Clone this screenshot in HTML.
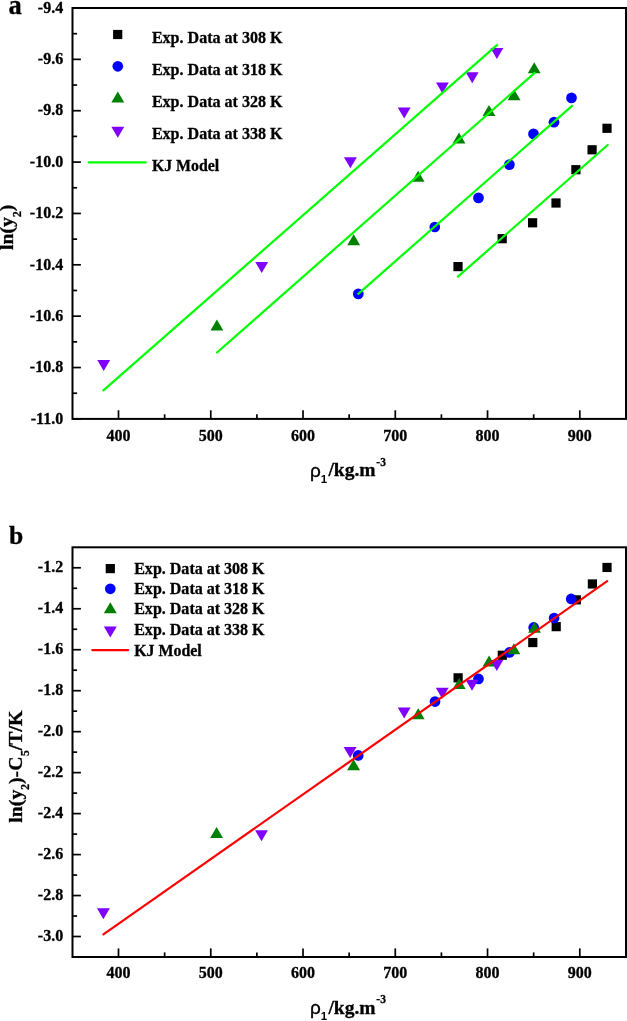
<!DOCTYPE html>
<html><head><meta charset="utf-8"><title>KJ model</title>
<style>html,body{margin:0;padding:0;background:#fff;}svg{display:block;will-change:transform;}</style></head>
<body>
<svg width="627" height="1021" viewBox="0 0 627 1021">
<rect width="627" height="1021" fill="#fff"/>
<rect x="72.5" y="8.0" width="553.5" height="410.9" fill="none" stroke="#000" stroke-width="2.0"/>
<line x1="72.5" y1="8.00" x2="80.9" y2="8.00" stroke="#000" stroke-width="1.7"/>
<line x1="72.5" y1="59.36" x2="80.9" y2="59.36" stroke="#000" stroke-width="1.7"/>
<line x1="72.5" y1="110.72" x2="80.9" y2="110.72" stroke="#000" stroke-width="1.7"/>
<line x1="72.5" y1="162.09" x2="80.9" y2="162.09" stroke="#000" stroke-width="1.7"/>
<line x1="72.5" y1="213.45" x2="80.9" y2="213.45" stroke="#000" stroke-width="1.7"/>
<line x1="72.5" y1="264.81" x2="80.9" y2="264.81" stroke="#000" stroke-width="1.7"/>
<line x1="72.5" y1="316.17" x2="80.9" y2="316.17" stroke="#000" stroke-width="1.7"/>
<line x1="72.5" y1="367.54" x2="80.9" y2="367.54" stroke="#000" stroke-width="1.7"/>
<line x1="72.5" y1="418.90" x2="80.9" y2="418.90" stroke="#000" stroke-width="1.7"/>
<line x1="72.5" y1="33.68" x2="77.1" y2="33.68" stroke="#000" stroke-width="1.7"/>
<line x1="72.5" y1="85.04" x2="77.1" y2="85.04" stroke="#000" stroke-width="1.7"/>
<line x1="72.5" y1="136.41" x2="77.1" y2="136.41" stroke="#000" stroke-width="1.7"/>
<line x1="72.5" y1="187.77" x2="77.1" y2="187.77" stroke="#000" stroke-width="1.7"/>
<line x1="72.5" y1="239.13" x2="77.1" y2="239.13" stroke="#000" stroke-width="1.7"/>
<line x1="72.5" y1="290.49" x2="77.1" y2="290.49" stroke="#000" stroke-width="1.7"/>
<line x1="72.5" y1="341.86" x2="77.1" y2="341.86" stroke="#000" stroke-width="1.7"/>
<line x1="72.5" y1="393.22" x2="77.1" y2="393.22" stroke="#000" stroke-width="1.7"/>
<line x1="118.50" y1="418.9" x2="118.50" y2="410.29999999999995" stroke="#000" stroke-width="1.7"/>
<line x1="210.76" y1="418.9" x2="210.76" y2="410.29999999999995" stroke="#000" stroke-width="1.7"/>
<line x1="303.02" y1="418.9" x2="303.02" y2="410.29999999999995" stroke="#000" stroke-width="1.7"/>
<line x1="395.28" y1="418.9" x2="395.28" y2="410.29999999999995" stroke="#000" stroke-width="1.7"/>
<line x1="487.54" y1="418.9" x2="487.54" y2="410.29999999999995" stroke="#000" stroke-width="1.7"/>
<line x1="579.80" y1="418.9" x2="579.80" y2="410.29999999999995" stroke="#000" stroke-width="1.7"/>
<line x1="164.63" y1="418.9" x2="164.63" y2="414.29999999999995" stroke="#000" stroke-width="1.7"/>
<line x1="256.89" y1="418.9" x2="256.89" y2="414.29999999999995" stroke="#000" stroke-width="1.7"/>
<line x1="349.15" y1="418.9" x2="349.15" y2="414.29999999999995" stroke="#000" stroke-width="1.7"/>
<line x1="441.41" y1="418.9" x2="441.41" y2="414.29999999999995" stroke="#000" stroke-width="1.7"/>
<line x1="533.67" y1="418.9" x2="533.67" y2="414.29999999999995" stroke="#000" stroke-width="1.7"/>
<text x="63.2" y="12.70" font-size="16" text-anchor="end" font-family="Liberation Serif" font-weight="bold" stroke="#000" stroke-width="0.3" >-9.4</text>
<text x="63.2" y="64.06" font-size="16" text-anchor="end" font-family="Liberation Serif" font-weight="bold" stroke="#000" stroke-width="0.3" >-9.6</text>
<text x="63.2" y="115.42" font-size="16" text-anchor="end" font-family="Liberation Serif" font-weight="bold" stroke="#000" stroke-width="0.3" >-9.8</text>
<text x="63.2" y="166.79" font-size="16" text-anchor="end" font-family="Liberation Serif" font-weight="bold" stroke="#000" stroke-width="0.3" >-10.0</text>
<text x="63.2" y="218.15" font-size="16" text-anchor="end" font-family="Liberation Serif" font-weight="bold" stroke="#000" stroke-width="0.3" >-10.2</text>
<text x="63.2" y="269.51" font-size="16" text-anchor="end" font-family="Liberation Serif" font-weight="bold" stroke="#000" stroke-width="0.3" >-10.4</text>
<text x="63.2" y="320.87" font-size="16" text-anchor="end" font-family="Liberation Serif" font-weight="bold" stroke="#000" stroke-width="0.3" >-10.6</text>
<text x="63.2" y="372.24" font-size="16" text-anchor="end" font-family="Liberation Serif" font-weight="bold" stroke="#000" stroke-width="0.3" >-10.8</text>
<text x="63.2" y="423.60" font-size="16" text-anchor="end" font-family="Liberation Serif" font-weight="bold" stroke="#000" stroke-width="0.3" >-11.0</text>
<text x="118.50" y="440.6" font-size="16" text-anchor="middle" font-family="Liberation Serif" font-weight="bold" stroke="#000" stroke-width="0.3" >400</text>
<text x="210.76" y="440.6" font-size="16" text-anchor="middle" font-family="Liberation Serif" font-weight="bold" stroke="#000" stroke-width="0.3" >500</text>
<text x="303.02" y="440.6" font-size="16" text-anchor="middle" font-family="Liberation Serif" font-weight="bold" stroke="#000" stroke-width="0.3" >600</text>
<text x="395.28" y="440.6" font-size="16" text-anchor="middle" font-family="Liberation Serif" font-weight="bold" stroke="#000" stroke-width="0.3" >700</text>
<text x="487.54" y="440.6" font-size="16" text-anchor="middle" font-family="Liberation Serif" font-weight="bold" stroke="#000" stroke-width="0.3" >800</text>
<text x="579.80" y="440.6" font-size="16" text-anchor="middle" font-family="Liberation Serif" font-weight="bold" stroke="#000" stroke-width="0.3" >900</text>
<rect x="602.40" y="123.70" width="9.2" height="9.2" fill="#000000"/>
<rect x="587.50" y="145.20" width="9.2" height="9.2" fill="#000000"/>
<rect x="571.30" y="165.10" width="9.2" height="9.2" fill="#000000"/>
<rect x="551.40" y="198.40" width="9.2" height="9.2" fill="#000000"/>
<rect x="528.00" y="218.20" width="9.2" height="9.2" fill="#000000"/>
<rect x="497.60" y="234.10" width="9.2" height="9.2" fill="#000000"/>
<rect x="453.40" y="262.00" width="9.2" height="9.2" fill="#000000"/>
<circle cx="571.50" cy="97.90" r="5.35" fill="#0000ff"/>
<circle cx="554.00" cy="122.20" r="5.35" fill="#0000ff"/>
<circle cx="533.50" cy="133.90" r="5.35" fill="#0000ff"/>
<circle cx="509.40" cy="164.60" r="5.35" fill="#0000ff"/>
<circle cx="478.50" cy="197.90" r="5.35" fill="#0000ff"/>
<circle cx="434.80" cy="227.00" r="5.35" fill="#0000ff"/>
<circle cx="358.30" cy="293.90" r="5.35" fill="#0000ff"/>
<polygon points="534.20,62.30 540.65,73.30 527.75,73.30" fill="#008000"/>
<polygon points="514.10,89.20 520.55,100.20 507.65,100.20" fill="#008000"/>
<polygon points="489.00,105.10 495.45,116.10 482.55,116.10" fill="#008000"/>
<polygon points="459.00,132.60 465.45,143.60 452.55,143.60" fill="#008000"/>
<polygon points="418.10,170.70 424.55,181.70 411.65,181.70" fill="#008000"/>
<polygon points="353.70,234.20 360.15,245.20 347.25,245.20" fill="#008000"/>
<polygon points="216.90,319.60 223.35,330.60 210.45,330.60" fill="#008000"/>
<polygon points="490.45,47.90 503.35,47.90 496.90,58.90" fill="#7f00ff"/>
<polygon points="465.75,72.30 478.65,72.30 472.20,83.30" fill="#7f00ff"/>
<polygon points="435.95,82.50 448.85,82.50 442.40,93.50" fill="#7f00ff"/>
<polygon points="397.75,107.60 410.65,107.60 404.20,118.60" fill="#7f00ff"/>
<polygon points="343.95,157.30 356.85,157.30 350.40,168.30" fill="#7f00ff"/>
<polygon points="255.25,262.10 268.15,262.10 261.70,273.10" fill="#7f00ff"/>
<polygon points="97.25,360.00 110.15,360.00 103.70,371.00" fill="#7f00ff"/>
<line x1="103.4" y1="390.4" x2="496.9" y2="45.1" stroke="#00ff00" stroke-width="2.2" stroke-linecap="round"/>
<line x1="217.0" y1="352.5" x2="534.7" y2="72.9" stroke="#00ff00" stroke-width="2.2" stroke-linecap="round"/>
<line x1="358.3" y1="293.8" x2="572.0" y2="105.8" stroke="#00ff00" stroke-width="2.2" stroke-linecap="round"/>
<line x1="457.9" y1="276.7" x2="607.7" y2="145.0" stroke="#00ff00" stroke-width="2.2" stroke-linecap="round"/>
<rect x="113.10" y="29.90" width="9.2" height="9.2" fill="#000000"/>
<circle cx="117.80" cy="66.30" r="5.35" fill="#0000ff"/>
<polygon points="117.80,91.40 124.25,102.40 111.35,102.40" fill="#008000"/>
<polygon points="111.35,126.80 124.25,126.80 117.80,137.80" fill="#7f00ff"/>
<line x1="88.8" y1="162.4" x2="145.6" y2="162.4" stroke="#00ff00" stroke-width="2.2" stroke-linecap="round"/>
<text x="151.9" y="43.3" font-size="15.8" text-anchor="start" font-family="Liberation Serif" font-weight="bold" stroke="#000" stroke-width="0.3" textLength="130.6" lengthAdjust="spacingAndGlyphs" >Exp. Data at 308 K</text>
<text x="151.9" y="75.2" font-size="15.8" text-anchor="start" font-family="Liberation Serif" font-weight="bold" stroke="#000" stroke-width="0.3" textLength="130.6" lengthAdjust="spacingAndGlyphs" >Exp. Data at 318 K</text>
<text x="151.9" y="107.0" font-size="15.8" text-anchor="start" font-family="Liberation Serif" font-weight="bold" stroke="#000" stroke-width="0.3" textLength="130.6" lengthAdjust="spacingAndGlyphs" >Exp. Data at 328 K</text>
<text x="151.9" y="139.4" font-size="15.8" text-anchor="start" font-family="Liberation Serif" font-weight="bold" stroke="#000" stroke-width="0.3" textLength="130.6" lengthAdjust="spacingAndGlyphs" >Exp. Data at 338 K</text>
<text x="151.9" y="170.8" font-size="15.8" text-anchor="start" font-family="Liberation Serif" font-weight="bold" stroke="#000" stroke-width="0.3" textLength="67.4" lengthAdjust="spacingAndGlyphs" >KJ Model</text>
<text x="8.4" y="13.6" font-size="26.5" text-anchor="start" font-family="Liberation Serif" font-weight="bold" stroke="#000" stroke-width="0.3" >a</text>
<g transform="translate(13.4,250.1) rotate(-90)"><text x="0" y="0" font-size="19.8" font-family="Liberation Serif" font-weight="bold" stroke="#000" stroke-width="0.3">ln(y<tspan font-size="11.5" dy="7.3">2</tspan><tspan dy="-7.3">)</tspan></text></g>
<text x="310.0" y="477.0" font-size="19" font-family="Liberation Sans" stroke="#000" stroke-width="0.35">&#961;</text>
<text x="320.8" y="482.9" font-size="11.5" font-family="Liberation Sans" font-weight="bold">1</text>
<text x="328.4" y="476.4" font-size="19.5" text-anchor="start" font-family="Liberation Serif" font-weight="bold" stroke="#000" stroke-width="0.3" >/kg.m</text>
<text x="376.3" y="466.2" font-size="11.5" text-anchor="start" font-family="Liberation Serif" font-weight="bold" stroke="#000" stroke-width="0.3" >-3</text>
<rect x="72.5" y="547.3" width="553.5" height="409.70000000000005" fill="none" stroke="#000" stroke-width="2.0"/>
<line x1="72.5" y1="567.78" x2="80.9" y2="567.78" stroke="#000" stroke-width="1.7"/>
<line x1="72.5" y1="608.75" x2="80.9" y2="608.75" stroke="#000" stroke-width="1.7"/>
<line x1="72.5" y1="649.72" x2="80.9" y2="649.72" stroke="#000" stroke-width="1.7"/>
<line x1="72.5" y1="690.69" x2="80.9" y2="690.69" stroke="#000" stroke-width="1.7"/>
<line x1="72.5" y1="731.66" x2="80.9" y2="731.66" stroke="#000" stroke-width="1.7"/>
<line x1="72.5" y1="772.63" x2="80.9" y2="772.63" stroke="#000" stroke-width="1.7"/>
<line x1="72.5" y1="813.61" x2="80.9" y2="813.61" stroke="#000" stroke-width="1.7"/>
<line x1="72.5" y1="854.58" x2="80.9" y2="854.58" stroke="#000" stroke-width="1.7"/>
<line x1="72.5" y1="895.55" x2="80.9" y2="895.55" stroke="#000" stroke-width="1.7"/>
<line x1="72.5" y1="936.51" x2="80.9" y2="936.51" stroke="#000" stroke-width="1.7"/>
<line x1="72.5" y1="588.27" x2="77.1" y2="588.27" stroke="#000" stroke-width="1.7"/>
<line x1="72.5" y1="629.24" x2="77.1" y2="629.24" stroke="#000" stroke-width="1.7"/>
<line x1="72.5" y1="670.21" x2="77.1" y2="670.21" stroke="#000" stroke-width="1.7"/>
<line x1="72.5" y1="711.18" x2="77.1" y2="711.18" stroke="#000" stroke-width="1.7"/>
<line x1="72.5" y1="752.15" x2="77.1" y2="752.15" stroke="#000" stroke-width="1.7"/>
<line x1="72.5" y1="793.12" x2="77.1" y2="793.12" stroke="#000" stroke-width="1.7"/>
<line x1="72.5" y1="834.09" x2="77.1" y2="834.09" stroke="#000" stroke-width="1.7"/>
<line x1="72.5" y1="875.06" x2="77.1" y2="875.06" stroke="#000" stroke-width="1.7"/>
<line x1="72.5" y1="916.03" x2="77.1" y2="916.03" stroke="#000" stroke-width="1.7"/>
<line x1="118.50" y1="957.0" x2="118.50" y2="948.4" stroke="#000" stroke-width="1.7"/>
<line x1="210.76" y1="957.0" x2="210.76" y2="948.4" stroke="#000" stroke-width="1.7"/>
<line x1="303.02" y1="957.0" x2="303.02" y2="948.4" stroke="#000" stroke-width="1.7"/>
<line x1="395.28" y1="957.0" x2="395.28" y2="948.4" stroke="#000" stroke-width="1.7"/>
<line x1="487.54" y1="957.0" x2="487.54" y2="948.4" stroke="#000" stroke-width="1.7"/>
<line x1="579.80" y1="957.0" x2="579.80" y2="948.4" stroke="#000" stroke-width="1.7"/>
<line x1="164.63" y1="957.0" x2="164.63" y2="952.4" stroke="#000" stroke-width="1.7"/>
<line x1="256.89" y1="957.0" x2="256.89" y2="952.4" stroke="#000" stroke-width="1.7"/>
<line x1="349.15" y1="957.0" x2="349.15" y2="952.4" stroke="#000" stroke-width="1.7"/>
<line x1="441.41" y1="957.0" x2="441.41" y2="952.4" stroke="#000" stroke-width="1.7"/>
<line x1="533.67" y1="957.0" x2="533.67" y2="952.4" stroke="#000" stroke-width="1.7"/>
<text x="63.2" y="572.49" font-size="16" text-anchor="end" font-family="Liberation Serif" font-weight="bold" stroke="#000" stroke-width="0.3" >-1.2</text>
<text x="63.2" y="613.46" font-size="16" text-anchor="end" font-family="Liberation Serif" font-weight="bold" stroke="#000" stroke-width="0.3" >-1.4</text>
<text x="63.2" y="654.42" font-size="16" text-anchor="end" font-family="Liberation Serif" font-weight="bold" stroke="#000" stroke-width="0.3" >-1.6</text>
<text x="63.2" y="695.39" font-size="16" text-anchor="end" font-family="Liberation Serif" font-weight="bold" stroke="#000" stroke-width="0.3" >-1.8</text>
<text x="63.2" y="736.37" font-size="16" text-anchor="end" font-family="Liberation Serif" font-weight="bold" stroke="#000" stroke-width="0.3" >-2.0</text>
<text x="63.2" y="777.34" font-size="16" text-anchor="end" font-family="Liberation Serif" font-weight="bold" stroke="#000" stroke-width="0.3" >-2.2</text>
<text x="63.2" y="818.31" font-size="16" text-anchor="end" font-family="Liberation Serif" font-weight="bold" stroke="#000" stroke-width="0.3" >-2.4</text>
<text x="63.2" y="859.28" font-size="16" text-anchor="end" font-family="Liberation Serif" font-weight="bold" stroke="#000" stroke-width="0.3" >-2.6</text>
<text x="63.2" y="900.25" font-size="16" text-anchor="end" font-family="Liberation Serif" font-weight="bold" stroke="#000" stroke-width="0.3" >-2.8</text>
<text x="63.2" y="941.22" font-size="16" text-anchor="end" font-family="Liberation Serif" font-weight="bold" stroke="#000" stroke-width="0.3" >-3.0</text>
<text x="118.50" y="978.1" font-size="16" text-anchor="middle" font-family="Liberation Serif" font-weight="bold" stroke="#000" stroke-width="0.3" >400</text>
<text x="210.76" y="978.1" font-size="16" text-anchor="middle" font-family="Liberation Serif" font-weight="bold" stroke="#000" stroke-width="0.3" >500</text>
<text x="303.02" y="978.1" font-size="16" text-anchor="middle" font-family="Liberation Serif" font-weight="bold" stroke="#000" stroke-width="0.3" >600</text>
<text x="395.28" y="978.1" font-size="16" text-anchor="middle" font-family="Liberation Serif" font-weight="bold" stroke="#000" stroke-width="0.3" >700</text>
<text x="487.54" y="978.1" font-size="16" text-anchor="middle" font-family="Liberation Serif" font-weight="bold" stroke="#000" stroke-width="0.3" >800</text>
<text x="579.80" y="978.1" font-size="16" text-anchor="middle" font-family="Liberation Serif" font-weight="bold" stroke="#000" stroke-width="0.3" >900</text>
<rect x="602.40" y="562.85" width="9.2" height="9.2" fill="#000000"/>
<rect x="587.80" y="579.35" width="9.2" height="9.2" fill="#000000"/>
<rect x="571.70" y="595.25" width="9.2" height="9.2" fill="#000000"/>
<rect x="551.60" y="622.05" width="9.2" height="9.2" fill="#000000"/>
<rect x="528.20" y="637.95" width="9.2" height="9.2" fill="#000000"/>
<rect x="497.70" y="650.65" width="9.2" height="9.2" fill="#000000"/>
<rect x="453.50" y="673.25" width="9.2" height="9.2" fill="#000000"/>
<polygon points="343.65,746.95 356.55,746.95 350.10,757.95" fill="#7f00ff"/>
<circle cx="571.20" cy="598.95" r="5.35" fill="#0000ff"/>
<circle cx="554.10" cy="618.05" r="5.35" fill="#0000ff"/>
<circle cx="533.70" cy="627.45" r="5.35" fill="#0000ff"/>
<circle cx="509.40" cy="652.45" r="5.35" fill="#0000ff"/>
<circle cx="478.50" cy="678.95" r="5.35" fill="#0000ff"/>
<circle cx="435.00" cy="701.55" r="5.35" fill="#0000ff"/>
<circle cx="358.20" cy="755.45" r="5.35" fill="#0000ff"/>
<polygon points="534.50,621.65 540.95,632.65 528.05,632.65" fill="#008000"/>
<polygon points="513.90,643.25 520.35,654.25 507.45,654.25" fill="#008000"/>
<polygon points="489.10,655.55 495.55,666.55 482.65,666.55" fill="#008000"/>
<polygon points="459.20,678.05 465.65,689.05 452.75,689.05" fill="#008000"/>
<polygon points="418.20,708.35 424.65,719.35 411.75,719.35" fill="#008000"/>
<polygon points="353.60,759.25 360.05,770.25 347.15,770.25" fill="#008000"/>
<polygon points="216.60,826.95 223.05,837.95 210.15,837.95" fill="#008000"/>
<polygon points="490.35,660.05 503.25,660.05 496.80,671.05" fill="#7f00ff"/>
<polygon points="465.55,679.85 478.45,679.85 472.00,690.85" fill="#7f00ff"/>
<polygon points="435.75,687.85 448.65,687.85 442.20,698.85" fill="#7f00ff"/>
<polygon points="397.75,707.45 410.65,707.45 404.20,718.45" fill="#7f00ff"/>
<polygon points="255.05,830.35 267.95,830.35 261.50,841.35" fill="#7f00ff"/>
<polygon points="96.95,908.25 109.85,908.25 103.40,919.25" fill="#7f00ff"/>
<line x1="103.4" y1="934.3" x2="607.2" y2="581.2" stroke="#ff0000" stroke-width="2.2" stroke-linecap="round"/>
<rect x="105.70" y="564.00" width="9.2" height="9.2" fill="#000000"/>
<circle cx="110.30" cy="588.80" r="5.35" fill="#0000ff"/>
<polygon points="110.30,602.30 116.75,613.30 103.85,613.30" fill="#008000"/>
<polygon points="103.85,626.40 116.75,626.40 110.30,637.40" fill="#7f00ff"/>
<line x1="92.3" y1="650.1" x2="128.2" y2="650.1" stroke="#ff0000" stroke-width="2.2" stroke-linecap="round"/>
<text x="134.2" y="574.1" font-size="15.8" text-anchor="start" font-family="Liberation Serif" font-weight="bold" stroke="#000" stroke-width="0.3" textLength="130.4" lengthAdjust="spacingAndGlyphs" >Exp. Data at 308 K</text>
<text x="134.2" y="594.0" font-size="15.8" text-anchor="start" font-family="Liberation Serif" font-weight="bold" stroke="#000" stroke-width="0.3" textLength="130.4" lengthAdjust="spacingAndGlyphs" >Exp. Data at 318 K</text>
<text x="134.2" y="614.1" font-size="15.8" text-anchor="start" font-family="Liberation Serif" font-weight="bold" stroke="#000" stroke-width="0.3" textLength="130.4" lengthAdjust="spacingAndGlyphs" >Exp. Data at 328 K</text>
<text x="134.2" y="634.7" font-size="15.8" text-anchor="start" font-family="Liberation Serif" font-weight="bold" stroke="#000" stroke-width="0.3" textLength="130.4" lengthAdjust="spacingAndGlyphs" >Exp. Data at 338 K</text>
<text x="134.2" y="655.5" font-size="15.8" text-anchor="start" font-family="Liberation Serif" font-weight="bold" stroke="#000" stroke-width="0.3" textLength="67.6" lengthAdjust="spacingAndGlyphs" >KJ Model</text>
<text x="9.0" y="543.9" font-size="25.6" text-anchor="start" font-family="Liberation Serif" font-weight="bold" stroke="#000" stroke-width="0.3" >b</text>
<g transform="translate(21.8,822.7) rotate(-90)"><text x="0" y="0" font-size="19.8" font-family="Liberation Serif" font-weight="bold" stroke="#000" stroke-width="0.3">ln(y<tspan font-size="11.5" dy="7.5">2</tspan><tspan dy="-7.5">)-C</tspan><tspan font-size="11.5" dy="7.5" dx="0.5">5</tspan><tspan dy="-7.5" dx="0.1">/T/K</tspan></text></g>
<text x="310.0" y="1014.2" font-size="19" font-family="Liberation Sans" stroke="#000" stroke-width="0.35">&#961;</text>
<text x="320.8" y="1020.1" font-size="11.5" font-family="Liberation Sans" font-weight="bold">1</text>
<text x="328.4" y="1013.6" font-size="19.5" text-anchor="start" font-family="Liberation Serif" font-weight="bold" stroke="#000" stroke-width="0.3" >/kg.m</text>
<text x="376.3" y="1003.4" font-size="11.5" text-anchor="start" font-family="Liberation Serif" font-weight="bold" stroke="#000" stroke-width="0.3" >-3</text>
</svg>
</body></html>
